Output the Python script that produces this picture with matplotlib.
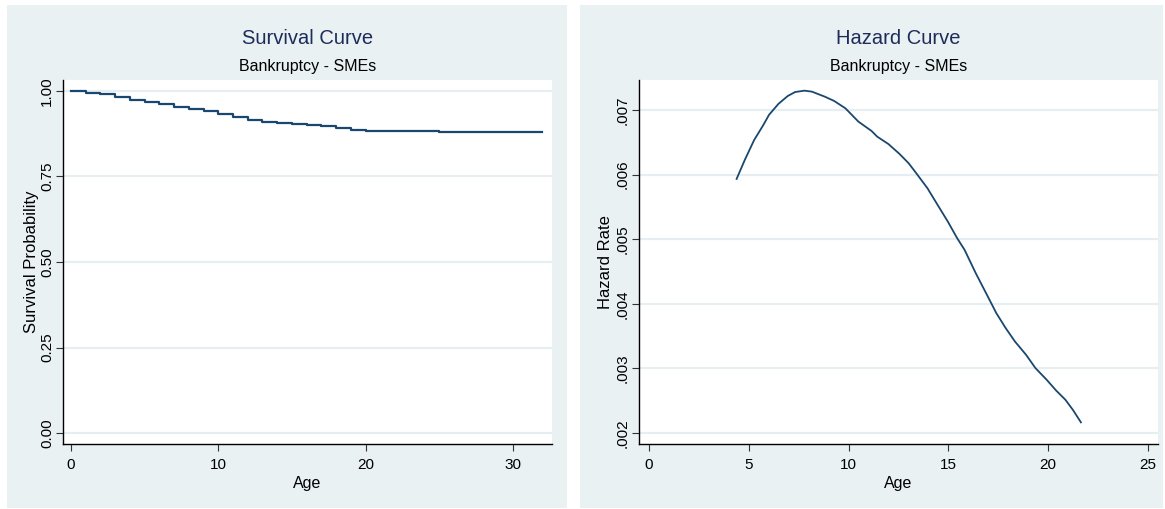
import matplotlib
matplotlib.use("Agg")
import matplotlib.pyplot as plt
from matplotlib import font_manager
from matplotlib.patches import Rectangle

# ---- data ----
surv_age = [0, 1, 2, 3, 4, 5, 6, 7, 8, 9, 10, 11, 12, 13, 14, 15, 16, 17, 18, 19, 20, 21, 22, 23, 24, 25, 26, 27, 28, 29, 30, 31, 32]
surv_prob = [1.000, 0.994, 0.990, 0.983, 0.975, 0.969, 0.962, 0.954, 0.946, 0.940, 0.934, 0.925, 0.915, 0.910, 0.907, 0.904, 0.901,
             0.898, 0.891, 0.887, 0.884, 0.883, 0.883, 0.883, 0.883, 0.880, 0.880, 0.880, 0.880, 0.880, 0.880, 0.880, 0.880]

haz_age = [4.39, 4.80, 5.27, 5.73, 6.01, 6.48, 6.95, 7.32, 7.79, 8.16, 8.81, 9.28, 9.84, 10.49, 11.15, 11.43, 11.99,
           12.55, 13.01, 13.39, 13.95, 14.51, 14.97, 15.44, 15.81, 16.37, 16.93, 17.40, 17.87, 18.33, 18.89, 19.36,
           19.92, 20.39, 20.86, 21.23, 21.64]
haz_rate = [0.005933, 0.006227, 0.006536, 0.006768, 0.006923, 0.007093, 0.007216, 0.007278, 0.007299, 0.007284,
            0.007206, 0.007139, 0.007026, 0.006820, 0.006675, 0.006588, 0.006474, 0.006320, 0.006175, 0.006021,
            0.005789, 0.005505, 0.005273, 0.005015, 0.004835, 0.004474, 0.004139, 0.003856, 0.003624, 0.003418,
            0.003211, 0.003005, 0.002825, 0.002660, 0.002515, 0.002361, 0.002165]

surv_xticks = [0, 10, 20, 30]
surv_yticks = [0.00, 0.25, 0.50, 0.75, 1.00]
surv_ylabels = ["0.00", "0.25", "0.50", "0.75", "1.00"]
haz_xticks = [0, 5, 10, 15, 20, 25]
haz_yticks = [0.002, 0.003, 0.004, 0.005, 0.006, 0.007]
haz_ylabels = [".002", ".003", ".004", ".005", ".006", ".007"]

# ---- style ----
names = {f.name for f in font_manager.fontManager.ttflist}
NARROW = "Liberation Sans Narrow" if "Liberation Sans Narrow" in names else None
REG = "Liberation Sans"
BG = "#e9f1f3"
GRID = "#e6eef1"
LINE = "#1a476f"
TITLE = "#1e2c5a"
TSIZE = 17 if NARROW else 14.5
SSIZE = 12.5 if NARROW else 11.5
ASIZE = 12.5 if NARROW else 11.5
NARROW = NARROW or REG

W, H = 1165, 509
fig = plt.figure(figsize=(W / 100, H / 100), dpi=100, facecolor="white")

def px_rect(x0, y0, x1, y1):
    return [x0 / W, 1 - y1 / H, (x1 - x0) / W, (y1 - y0) / H]

# panel backgrounds
for (x0, y0, x1, y1) in [(7, 5, 567, 508), (580, 5, 1163, 508)]:
    r = px_rect(x0, y0, x1, y1)
    fig.patches.append(Rectangle((r[0], r[1]), r[2], r[3], transform=fig.transFigure,
                                 facecolor=BG, edgecolor="none", zorder=-10))

def style(ax, yticks, ylabels, xticks, ylabel):
    ax.set_facecolor("white")
    for s in ["top", "right"]:
        ax.spines[s].set_visible(False)
    for s in ["left", "bottom"]:
        ax.spines[s].set_color("black")
        ax.spines[s].set_linewidth(1.0)
    ax.set_yticks(yticks)
    ax.set_yticklabels(ylabels, rotation=90, va="center", ha="center", fontfamily=REG, fontsize=11)
    ax.set_xticks(xticks)
    ax.set_xticklabels([str(t) for t in xticks], fontfamily=REG, fontsize=11)
    ax.tick_params(axis="both", direction="out", length=5, width=0.8, color="#333333")
    ax.tick_params(axis="y", pad=6.5)
    ax.tick_params(axis="x", pad=5)
    ax.yaxis.grid(True, color=GRID, linewidth=1.6)
    ax.xaxis.grid(False)
    ax.set_axisbelow(True)
    ax.set_xlabel("Age", fontfamily=NARROW, fontsize=ASIZE, labelpad=3)
    ax.set_ylabel(ylabel, fontfamily=REG, fontsize=12, va="center")

# ---- survival ----
ax1 = fig.add_axes(px_rect(63, 80, 552, 444))
ax1.set_zorder(1)
ax1.step(surv_age, surv_prob, where="post", color=LINE, linewidth=1.6)
ax1.set_xlim(-0.54, 32.65)
ax1.set_ylim(-0.032, 1.032)
style(ax1, surv_yticks, surv_ylabels, surv_xticks, "Survival Probability")
ax1.yaxis.set_label_coords((32 - 63) / 489, 0.5)

# ---- hazard ----
ax2 = fig.add_axes(px_rect(639, 80, 1158, 444))
ax2.set_zorder(1)
ax2.plot(haz_age, haz_rate, color=LINE, linewidth=1.3)
ax2.set_xlim(-0.5, 25.5)
ax2.set_ylim(0.00183, 0.007464)
style(ax2, haz_yticks, haz_ylabels, haz_xticks, "Hazard Rate")
ax2.yaxis.set_label_coords((605 - 639) / 519, 0.5)

# titles
for cx, t in [(307.5, "Survival Curve"), (898.5, "Hazard Curve")]:
    fig.text(cx / W, 1 - 38 / H, t, ha="center", va="center", fontfamily=NARROW, fontsize=TSIZE, color=TITLE)
    fig.text(cx / W, 1 - 67 / H, "Bankruptcy - SMEs", ha="center", va="center", fontfamily=NARROW, fontsize=SSIZE, color="black")

fig.savefig("out.png", dpi=100, facecolor="white")
